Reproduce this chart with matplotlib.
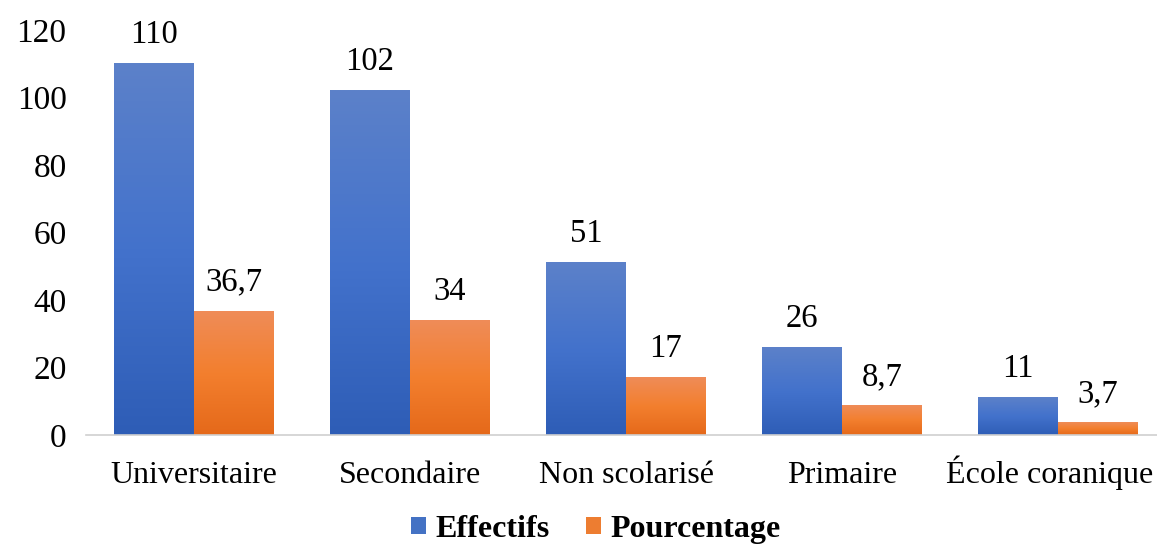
import numpy as np
import matplotlib.pyplot as plt
from matplotlib.colors import LinearSegmentedColormap
from matplotlib.patches import Patch
from matplotlib.transforms import offset_copy

plt.rcParams['font.family'] = ['Liberation Serif', 'DejaVu Serif']

categories = ["Universitaire", "Secondaire", "Non scolarisé", "Primaire", "École coranique"]
effectifs = [110, 102, 51, 26, 11]
pourcentage = [36.7, 34, 17, 8.7, 3.7]
eff_labels = ["110", "102", "51", "26", "11"]
pct_labels = ["36,7", "34", "17", "8,7", "3,7"]

blue_grad = LinearSegmentedColormap.from_list("b", ["#2E5DB6", "#4372CC", "#5C81C9"])
orange_grad = LinearSegmentedColormap.from_list("o", ["#E5691A", "#F37F2E", "#EF8C58"])


def gradientBar(ax, x, h, w, cmap):
    grad = np.linspace(0, 1, 256).reshape(-1, 1)
    ax.imshow(grad, cmap=cmap, origin='lower', aspect='auto',
              extent=(x - w / 2, x + w / 2, 0, h), zorder=2)


fig = plt.figure(figsize=(11.57, 5.48), dpi=100)
ax = fig.add_axes([0.0743, 0.206, 0.9257, 0.739])

w = 0.37
xs = np.arange(len(categories))
for i in xs:
    gradientBar(ax, i - w / 2, effectifs[i], w, blue_grad)
    gradientBar(ax, i + w / 2, pourcentage[i], w, orange_grad)
    ax.text(i - w / 2, effectifs[i] + 4, eff_labels[i], ha='center', va='bottom', fontsize=23.5)
    ax.text(i + w / 2, pourcentage[i] + 4, pct_labels[i], ha='center', va='bottom', fontsize=23.5)

ax.set_xlim(-0.5, 4.458)
ax.set_ylim(0, 120)
ax.set_yticks(range(0, 121, 20))
ax.set_xticks(xs)
ax.set_xticklabels(categories, va='baseline')
ax.tick_params(axis='both', length=0, labelsize=23)
ax.tick_params(axis='y', labelsize=24, pad=14)
ax.tick_params(axis='x', pad=34.5)
# last label pushed left so it stays inside the figure
last = ax.get_xticklabels()[-1]
last.set_transform(offset_copy(last.get_transform(), fig=fig, x=-8, units='dots'))
for s in ['top', 'right', 'left']:
    ax.spines[s].set_visible(False)
ax.spines['bottom'].set_color('#D0D0D0')
ax.spines['bottom'].set_linewidth(1.2)

handles = [Patch(facecolor='#4472C4', label='Effectifs'),
           Patch(facecolor='#ED7D31', label='Pourcentage')]
fig.legend(handles=handles, loc='lower center', bbox_to_anchor=(0.515, -0.045), ncol=2,
           frameon=False, prop={'weight': 'bold', 'size': 23},
           handlelength=0.45, handleheight=0.45, handletextpad=0.3, columnspacing=1.15)

fig.savefig('out.png', dpi=100)
